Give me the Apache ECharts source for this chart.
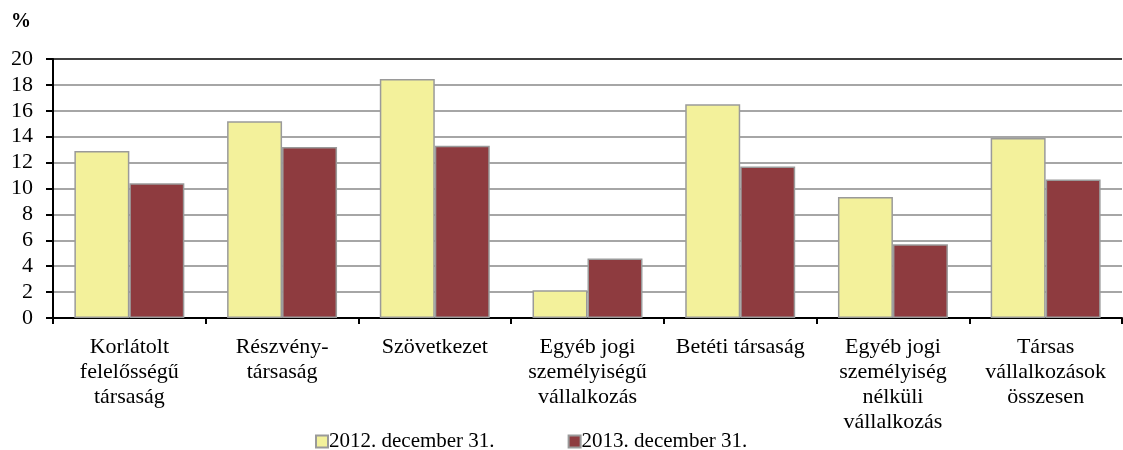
<!DOCTYPE html>
<html>
<head>
<meta charset="utf-8">
<script src="https://cdn.jsdelivr.net/npm/echarts@6/dist/echarts.min.js"></script>
<style>
    html, body { margin: 0; padding: 0; background: #fff; }
    #chart { width: 1123px; height: 450px; }
</style>
</head>
<body>
<div id="chart"></div>
<script>
const categories = [
    "Korlátolt\nfelelősségű\ntársaság",
    "Részvény-\ntársaság",
    "Szövetkezet",
    "Egyéb jogi\nszemélyiségű\nvállalkozás",
    "Betéti társaság",
    "Egyéb jogi\nszemélyiség\nnélküli\nvállalkozás",
    "Társas\nvállalkozások\nösszesen"
]
const values2012 = [12.9, 15.2, 18.45, 2.15, 16.5, 9.35, 13.9]
const values2013 = [10.4, 13.2, 13.3, 4.6, 11.7, 5.7, 10.7]
const seriesNames = ["2012. december 31.", "2013. december 31."]

const font = "'Liberation Serif', 'DejaVu Serif', serif"

// rácsvonalak: a legfelső sötét
const gridColors = []
for (let i = 0; i <= 10; i++) gridColors.push(i === 10 ? "#404040" : "#a6a6a6")

const chart = echarts.init(document.getElementById("chart"))
const option = {
    animation: false,
    textStyle: { fontFamily: font },
    grid: { left: 53, right: 1, top: 59, bottom: 132 },
    legend: {
        top: 426,
        left: 310,
        itemGap: 73,
        itemWidth: 12,
        itemHeight: 12,
        icon: "rect",
        textStyle: { fontFamily: font, fontSize: 21, color: "#000", padding: [0, 0, 0, -4] },
        data: seriesNames
    },
    graphic: [{
        type: "text",
        left: 11,
        top: 12,
        style: { text: "%", fontSize: 20, fontWeight: "bold", fontFamily: font, fill: "#000" }
    }],
    xAxis: {
        type: "category",
        data: categories,
        axisLine: { lineStyle: { color: "#000", width: 2 } },
        axisTick: { show: true, length: 6, lineStyle: { color: "#000", width: 2 } },
        axisLabel: {
            color: "#000",
            fontSize: 22,
            lineHeight: 25,
            margin: 17,
            interval: 0,
            fontFamily: font
        }
    },
    yAxis: {
        type: "value",
        min: 0,
        max: 20,
        interval: 2,
        axisLine: { show: true, lineStyle: { color: "#000", width: 2 } },
        axisTick: { show: true, length: 7, lineStyle: { color: "#000", width: 2 } },
        axisLabel: { color: "#000", fontSize: 22, margin: 20, fontFamily: font },
        splitLine: { lineStyle: { color: gridColors, width: 2 } }
    },
    series: [{
        name: seriesNames[0],
        type: "bar",
        data: values2012,
        barGap: "0%",
        barCategoryGap: "28%",
        itemStyle: { color: "#f3f19b", borderColor: "#9a9a9a", borderWidth: 1.5 }
    }, {
        name: seriesNames[1],
        type: "bar",
        data: values2013,
        itemStyle: { color: "#8e3b3f", borderColor: "#9a9a9a", borderWidth: 1.5 }
    }]
}
chart.setOption(option)
</script>
</body>
</html>
